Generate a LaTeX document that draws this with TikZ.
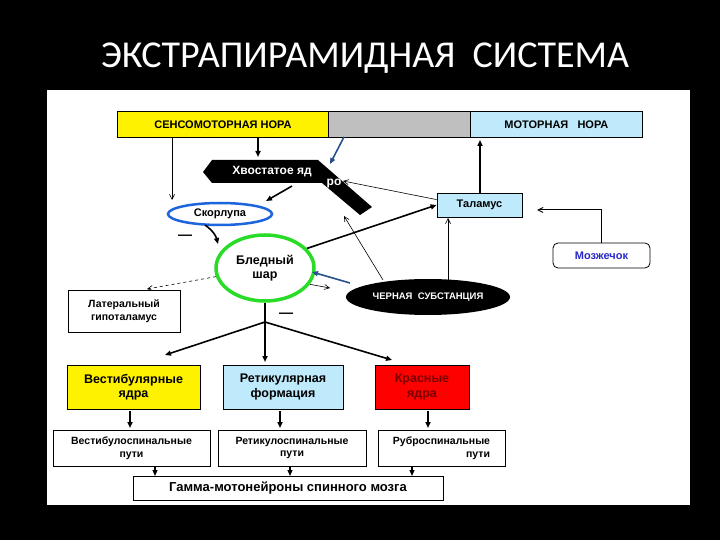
\documentclass[tikz,border=0pt]{standalone}
\usepackage{fontspec}
\setmainfont{Liberation Sans}
\newfontfamily\titlefont{Carlito}
\usetikzlibrary{arrows.meta,shapes.geometric}
\begin{document}
\begin{tikzpicture}[x=1pt,y=-1pt,
  txt/.style={font=\bfseries\fontsize{11}{12.5}\selectfont,align=center,inner sep=1pt},
  bx/.style={draw=black,line width=0.8pt,txt},
  thick arr/.style={-{Triangle[length=6pt,width=5pt]},line width=1.6pt},
  thin arr/.style={-{Straight Barb[length=5pt,width=5pt]},line width=0.6pt},
  blue arr/.style={-{Triangle[length=6pt,width=5pt]},line width=1.6pt,draw={rgb,255:red,40;green,80;blue,140}}]
\fill[black] (0,0) rectangle (720,540);
\useasboundingbox (0,0) rectangle (720,540);
\node[text=white,font=\titlefont\fontsize{38}{42}\selectfont] (title) at (365,58) {ЭКСТРАПИРАМИДНАЯ\ \ СИСТЕМА};
\fill[white] (47,90) rectangle (690,505);
% top bar
\node[bx,fill=yellow,minimum width=211,minimum height=26,anchor=north west] (senso) at (117,111) {СЕНСОМОТОРНАЯ НОРА};
\node[draw=black,line width=0.8pt,fill=gray!50,minimum width=142,minimum height=26,anchor=north west] (gray) at (328,111) {};
\node[bx,fill=cyan!25,minimum width=172,minimum height=26,anchor=north west] (motor) at (470,111) {МОТОРНАЯ \ \ НОРА};
% caudate
\fill[black] (203,172) -- (212,160) -- (318,160) -- (372,207) -- (360,215) -- (322,183) -- (212,183) -- cycle;
\node[txt,text=white,font=\bfseries\fontsize{12}{13}\selectfont] (caud) at (272,172) {Хвостатое яд};
\node[txt,text=white,font=\bfseries\fontsize{12}{13}\selectfont] (caud2) at (334,184) {ро};
% ellipses
\node[ellipse,draw={rgb,255:red,30;green,100;blue,220},line width=2.5pt,fill=white,minimum width=104,minimum height=22,inner sep=0pt,txt] (skor) at (220,214) {Скорлупа};
\node[ellipse,draw={rgb,255:red,40;green,220;blue,40},line width=3.5pt,fill=white,minimum width=98,minimum height=66,inner sep=0pt,txt,font=\bfseries\fontsize{12.5}{14}\selectfont] (bled) at (265,268) {Бледный\\шар};
\node[ellipse,fill=black,text=white,minimum width=164,minimum height=36,inner sep=0pt,txt,font=\bfseries\fontsize{9.5}{11}\selectfont] (cherna) at (428,297) {ЧЕРНАЯ \ СУБСТАНЦИЯ};
\node[bx,fill=cyan!25,minimum width=85,minimum height=24] (thal) at (479.5,205) {Таламус};
\node[bx,fill=white,rounded corners=5pt,text={rgb,255:red,40;green,40;blue,200},minimum width=97,minimum height=25] (moz) at (601.5,255.5) {Мозжечок};
\node[bx,fill=white,minimum width=112,minimum height=42,font=\bfseries\fontsize{10.5}{13}\selectfont] (lat) at (124,311) {Латеральный\\гипоталамус};
% nuclei
\node[bx,fill=yellow,minimum width=133,minimum height=44,font=\bfseries\fontsize{12.5}{14.5}\selectfont] (vest) at (133.5,387) {Вестибулярные\\ядра};
\node[bx,fill=cyan!25,minimum width=120,minimum height=44,font=\bfseries\fontsize{12.5}{14.5}\selectfont] (ret) at (283,387) {Ретикулярная\\формация};
\node[bx,fill=red,text={rgb,255:red,120;green,0;blue,0},minimum width=94,minimum height=44,font=\bfseries\fontsize{12.5}{14.5}\selectfont] (red) at (422,387) {Красные\\ядра};
% paths
\node[bx,fill=white,minimum width=157,minimum height=36,font=\bfseries\fontsize{10.5}{12.5}\selectfont] (vp) at (131.5,448) {Вестибулоспинальные\\пути};
\node[bx,fill=white,minimum width=148,minimum height=36,font=\bfseries\fontsize{10.5}{12.5}\selectfont] (rp) at (292,448) {Ретикулоспинальные\\пути};
\node[bx,fill=white,minimum width=127,minimum height=36,align=right,font=\bfseries\fontsize{10.5}{12.5}\selectfont] (rbp) at (441.5,448) {Руброспинальные\\пути};
\node[bx,fill=white,minimum width=310,minimum height=24,font=\bfseries\fontsize{13}{14}\selectfont] (gamma) at (288,488) {Гамма-мотонейроны спинного мозга};
% minus signs
\node[txt,font=\bfseries\fontsize{14}{14}\selectfont] (m1) at (185,237) {—};
\node[txt,font=\bfseries\fontsize{14}{14}\selectfont] (m2) at (286,315) {—};
% arrows
\draw[thick arr] (258,137) -- (258,157);
\draw[thin arr] (172,137) -- (172,200);
\draw[blue arr] (344,137) -- (330,164);
\draw[thick arr] (292,186) -- (266,201);
\draw[thick arr] (205,225) to[bend left=20] (218,244);
\draw[thick arr] (bled.25) -- (thal.west);
\draw[thin arr] (383,280) -- (344,216);
\draw[thin arr] (thal.north west) ++(0,7) -- (343,181);
\draw[thin arr] (448,280) -- (448,218);
\draw[thick arr] (480,193) -- (480,140);
\draw[thin arr,line width=1pt] (moz.north) -- (601.5,210) -- (537,210);
\draw[blue arr] (350,283) -- (312,272);
\draw[thin arr] (bled.-20) -- (330,288);
\draw[thin arr,dashed] (bled.190) -- (147,289);
\coordinate (br) at (265,322);
\draw[line width=1.6pt] (bled.south) -- (br);
\draw[thick arr] (br) -- (165,355);
\draw[thick arr] (br) -- (265,362);
\draw[thick arr] (br) -- (392,360);
\draw[thick arr] (130,411) -- (130,428);
\draw[thick arr] (280,411) -- (280,428);
\draw[thick arr] (428,411) -- (428,428);
\draw[thick arr,line width=1.2pt] (155,466) -- (155,476);
\draw[thick arr,line width=1.2pt] (290,466) -- (290,476);
\draw[thick arr,line width=1.2pt] (412,466) -- (412,476);
\end{tikzpicture}
\end{document}
